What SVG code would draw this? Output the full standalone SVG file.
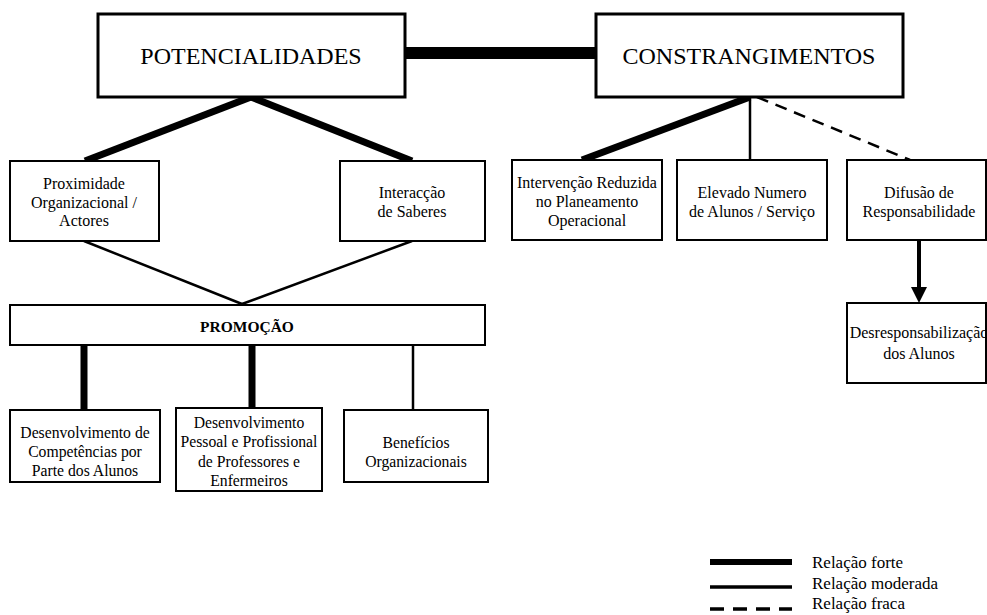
<svg xmlns="http://www.w3.org/2000/svg" width="987" height="615" viewBox="0 0 987 615">
<defs>
<style>
.box{fill:#fff;stroke:#000;stroke-width:2}
.hbox{fill:#fff;stroke:#000;stroke-width:3}
text{font-family:"Liberation Serif","Times New Roman",serif;fill:#000;text-anchor:middle}
.h{font-size:24px}
.t{font-size:16px}
.b{font-size:15.7px}
.lg{font-size:17px;text-anchor:start}
.strong{stroke:#000;stroke-width:7;fill:none}
.mod{stroke:#000;stroke-width:2.5;fill:none}
.weak{stroke:#000;stroke-width:2.5;fill:none;stroke-dasharray:12 8}
</style>
</defs>
<rect width="987" height="615" fill="#fff"/>
<g id="connectors">
<line x1="405" y1="53" x2="596" y2="53" stroke="#000" stroke-width="12"/>
<line class="strong" x1="251" y1="97" x2="85" y2="161"/>
<line class="strong" x1="251" y1="97" x2="412" y2="161"/>
<line class="mod" x1="84" y1="241" x2="242" y2="304"/>
<line class="mod" x1="412" y1="241" x2="242" y2="304"/>
<line class="strong" x1="84" y1="345" x2="84" y2="410"/>
<line class="strong" x1="252" y1="345" x2="252" y2="408"/>
<line class="mod" x1="413" y1="345" x2="413" y2="410"/>
<line class="strong" x1="750" y1="97" x2="582" y2="160"/>
<line class="mod" x1="750" y1="97" x2="750" y2="160"/>
<line class="weak" x1="757" y1="97" x2="910" y2="160"/>
<line x1="919" y1="240" x2="919" y2="288" stroke="#000" stroke-width="4"/>
<path d="M911,287 L927,287 L919,303 z" fill="#000"/>
</g>
<g id="potencialidades">
<rect class="hbox" x="98" y="14" width="307" height="83"/>
<text class="h" x="251" y="64">POTENCIALIDADES</text>
</g>
<g id="constrangimentos">
<rect class="hbox" x="596" y="14" width="307" height="83"/>
<text class="h" x="749" y="64">CONSTRANGIMENTOS</text>
</g>
<g id="proximidade">
<rect class="box" x="10" y="161" width="149" height="80"/>
<text class="t" x="84" y="189">Proximidade</text>
<text class="t" x="84" y="208">Organizacional /</text>
<text class="t" x="84" y="226">Actores</text>
</g>
<g id="interaccao">
<rect class="box" x="340" y="161" width="145" height="80"/>
<text class="t" x="412" y="198">Interacção</text>
<text class="t" x="412" y="217">de Saberes</text>
</g>
<g id="promocao">
<rect class="box" x="10" y="305" width="475" height="40"/>
<text x="247" y="332" font-size="15.5" font-weight="bold">PROMOÇÃO</text>
</g>
<g id="desenv-competencias">
<rect class="box" x="10" y="410" width="150" height="72"/>
<text class="b" x="85" y="438">Desenvolvimento de</text>
<text class="b" x="85" y="457">Competências por</text>
<text class="b" x="85" y="476">Parte dos Alunos</text>
</g>
<g id="desenv-pessoal">
<rect class="box" x="176" y="408" width="146" height="83"/>
<text class="b" x="249" y="428">Desenvolvimento</text>
<text class="b" x="249" y="447">Pessoal e Profissional</text>
<text class="b" x="249" y="467">de Professores e</text>
<text class="b" x="249" y="486">Enfermeiros</text>
</g>
<g id="beneficios">
<rect class="box" x="344" y="410" width="144" height="72"/>
<text class="b" x="416" y="448">Benefícios</text>
<text class="b" x="416" y="467">Organizacionais</text>
</g>
<g id="intervencao">
<rect class="box" x="512" y="160" width="150" height="80"/>
<text class="t" x="587" y="188">Intervenção Reduzida</text>
<text class="t" x="587" y="207">no Planeamento</text>
<text class="t" x="587" y="226">Operacional</text>
</g>
<g id="elevado">
<rect class="box" x="677" y="160" width="150" height="80"/>
<text class="t" x="752" y="198">Elevado Numero</text>
<text class="t" x="752" y="217">de Alunos / Serviço</text>
</g>
<g id="difusao">
<rect class="box" x="847" y="160" width="139" height="80"/>
<text class="t" x="919" y="198">Difusão de</text>
<text class="t" x="919" y="217">Responsabilidade</text>
</g>
<g id="desresponsabilizacao">
<rect class="box" x="847" y="303" width="139" height="80"/>
<text class="t" x="919" y="338">Desresponsabilização</text>
<text class="t" x="919" y="359">dos Alunos</text>
</g>
<g id="legend">
<line x1="710" y1="562" x2="792" y2="562" stroke="#000" stroke-width="6"/>
<line x1="710" y1="587" x2="792" y2="587" stroke="#000" stroke-width="3.5"/>
<line x1="710" y1="609" x2="792" y2="609" stroke="#000" stroke-width="3.5" stroke-dasharray="14 9"/>
<text class="lg" x="812" y="568">Relação forte</text>
<text class="lg" x="812" y="589">Relação moderada</text>
<text class="lg" x="812" y="609">Relação fraca</text>
</g>
</svg>
